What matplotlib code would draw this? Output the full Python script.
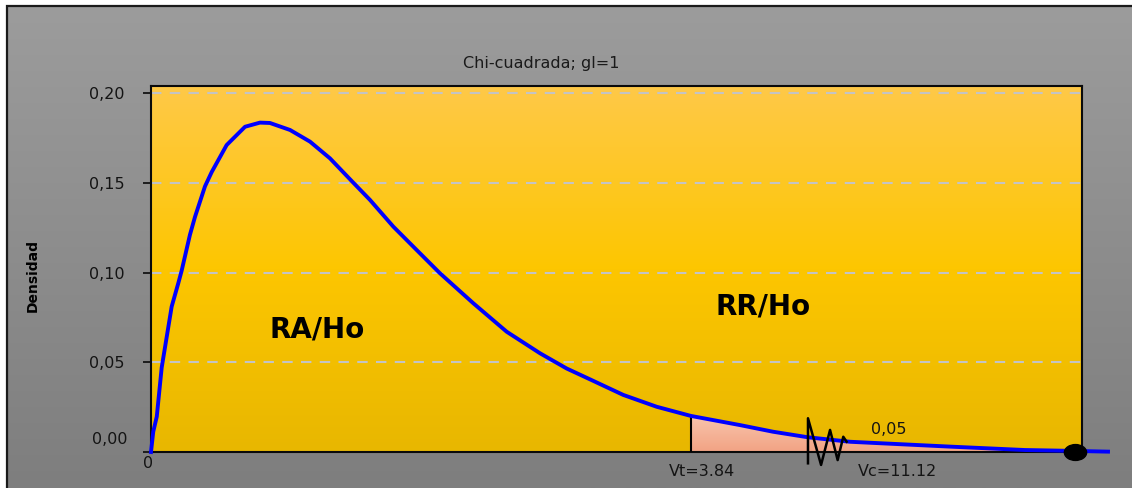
import numpy as np
import matplotlib
matplotlib.use("Agg")
import matplotlib.pyplot as plt
from matplotlib.colors import LinearSegmentedColormap
from matplotlib.markers import MarkerStyle
from matplotlib.patches import Polygon, Rectangle
from matplotlib.path import Path
from matplotlib.transforms import Affine2D

# curve (x in chart units, Vt = 3.84)
x_vals = [0.0, 0.016, 0.041, 0.076, 0.147, 0.194, 0.218, 0.277, 0.313, 0.384,
          0.432, 0.538, 0.669, 0.775, 0.846, 0.989, 1.131, 1.273, 1.427, 1.558,
          1.723, 1.890, 2.055, 2.292, 2.530, 2.767, 2.957, 3.122, 3.359, 3.597,
          3.84, 4.189, 4.424, 4.673, 4.972, 5.683, 6.216, 6.572, 6.807]
densidad = [0.0, 0.0113, 0.0197, 0.047, 0.081, 0.094, 0.101, 0.121, 0.131, 0.148,
            0.156, 0.171, 0.1812, 0.1835, 0.1833, 0.1794, 0.1729, 0.1636, 0.1510, 0.1404,
            0.1256, 0.1125, 0.0996, 0.0829, 0.067, 0.055, 0.0465, 0.0405, 0.0318, 0.0252,
            0.0201, 0.015, 0.0113, 0.0082, 0.0057, 0.003, 0.0011, 0.0006, 0.0002]

vt = 3.84
x_fin = 6.572
x_max = 6.622
y_max = 0.2039
y_ticks = [0.0, 0.05, 0.10, 0.15, 0.20]
y_tick_labels = ["", "0,05", "0,10", "0,15", "0,20"]

# zigzag mark near Vc
zig_x = [4.673, 4.673, 4.766, 4.830, 4.884, 4.924, 4.948]
zig_y = [-0.0063, 0.0188, -0.0072, 0.0123, -0.0045, 0.0085, 0.0057]

W, H = 1132, 488


def fx(px):
    return px / W


def fy(py):
    return 1 - py / H


fig = plt.figure(figsize=(W / 100, H / 100), dpi=100)
fig.patch.set_facecolor("white")

# grey background with frame
bg = fig.add_axes([fx(7), 0, 1 - fx(7), fy(6)])
bg.axis("off")
grey = LinearSegmentedColormap.from_list("grey", ["#7E7E7E", "#9C9C9C"])
bg.imshow(np.linspace(0, 1, 256).reshape(-1, 1), cmap=grey, aspect="auto",
          extent=[0, 1, 0, 1], origin="lower")
bg.set_xlim(0, 1)
bg.set_ylim(0, 1)
fig.patches.append(Rectangle((fx(7), -0.1), 1.2, fy(6) + 0.1, transform=fig.transFigure,
                             fill=False, edgecolor="#1a1a1a", lw=1.6, zorder=10))

ax = fig.add_axes([fx(151), fy(452), (1082 - 151) / W, (452 - 86) / H])
ax.set_facecolor("none")

yellow = LinearSegmentedColormap.from_list("yellow", ["#E8B700", "#FDC600", "#FFC948"])
ax.imshow(np.linspace(0, 1, 256).reshape(-1, 1), cmap=yellow, aspect="auto",
          extent=[0, 1, 0, 1], origin="lower", transform=ax.transAxes, zorder=0)

x = np.array(x_vals)
y = np.array(densidad)

# rejection region, pink gradient clipped to the area under the curve
mask = (x >= vt) & (x <= x_fin)
verts = np.vstack([np.column_stack([x[mask], y[mask]]), [[x_fin, 0], [vt, 0]]])
area = Polygon(verts, closed=True, facecolor="none", edgecolor="none")
ax.add_patch(area)
pink = LinearSegmentedColormap.from_list("pink", ["#F2A384", "#F8C4AC"])
im = ax.imshow(np.linspace(0, 1, 64).reshape(-1, 1), cmap=pink, aspect="auto",
               extent=[vt, x_fin, 0, y[mask].max()], origin="lower", zorder=2)
im.set_clip_path(area)
ax.vlines(vt, 0, y[x == vt][0], color="black", lw=1.5, zorder=3)

ax.plot(x, y, color="#0000FF", lw=2.8, clip_on=False, zorder=5,
        solid_joinstyle="round")

oval = MarkerStyle(Path.unit_circle().transformed(Affine2D().scale(1.4, 1.0)))
ax.plot([x_fin], [0], marker=oval, markersize=16, color="black", clip_on=False, zorder=6)
ax.plot(zig_x, zig_y, color="black", lw=1.8, clip_on=False, zorder=7)

ax.set_xlim(0, x_max)
ax.set_ylim(0, y_max)
ax.set_xticks([])
ax.set_yticks(y_ticks)
ax.set_yticklabels(y_tick_labels)
ax.tick_params(axis="y", direction="out", length=5.8, width=1.3, pad=13.5,
               labelsize=11.5, labelcolor="#141414", color="#141414")
ax.yaxis.grid(True, linestyle=(0, (5, 4)), color="#C4C4C4", lw=1.5)
for s in ax.spines.values():
    s.set_color("#0a0a0a")
    s.set_linewidth(1.5)

fig.text(fx(127.7), fy(440), "0,00", ha="right", va="center", fontsize=11.5, color="#141414")
fig.text(fx(148), fy(463.5), "0", ha="center", va="center", fontsize=11.5, color="#141414")
fig.text(fx(541.7), fy(63.5), "Chi-cuadrada; gl=1", ha="center", va="center",
         fontsize=11.5, color="#1a1a1a")
fig.text(fx(33), fy(276), "Densidad", rotation=90, ha="center", va="center",
         fontsize=10, fontweight="bold", color="black")
fig.text(fx(317.5), fy(330), "RA/Ho", ha="center", va="center", fontsize=20,
         fontweight="bold", color="black")
fig.text(fx(762.7), fy(306.7), "RR/Ho", ha="center", va="center", fontsize=20,
         fontweight="bold", color="black")
fig.text(fx(889), fy(430), "0,05", ha="center", va="center", fontsize=11.5, color="#141414")
fig.text(fx(701.7), fy(472), "Vt=3.84", ha="center", va="center", fontsize=11.5,
         color="#141414")
fig.text(fx(897.5), fy(472), "Vc=11.12", ha="center", va="center", fontsize=11.5,
         color="#141414")

fig.savefig("out.png", dpi=100)
